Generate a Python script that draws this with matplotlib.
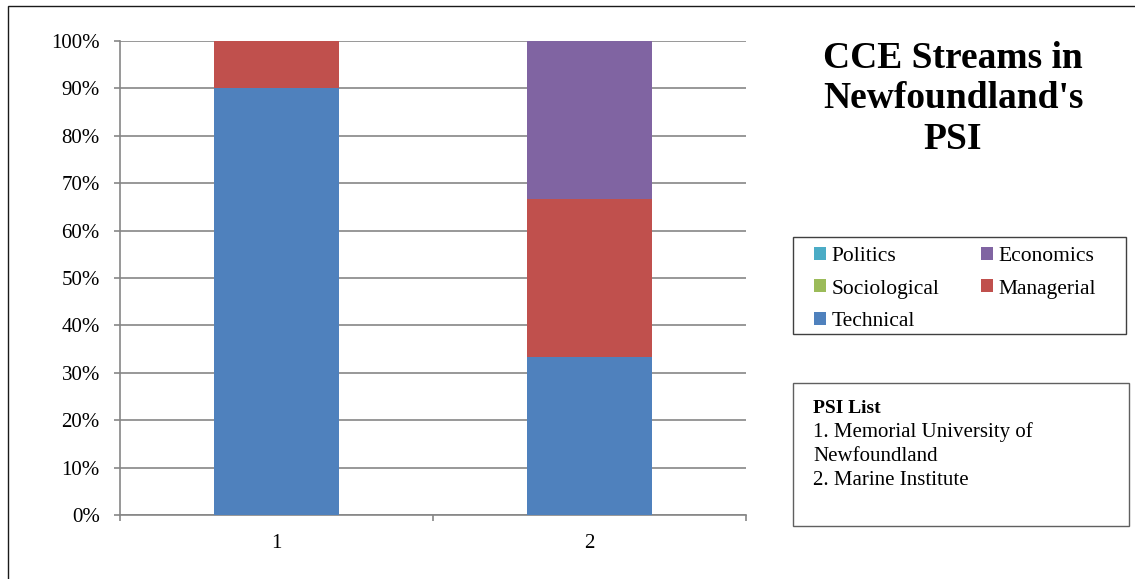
import matplotlib
matplotlib.use("Agg")
import matplotlib.pyplot as plt
from matplotlib.patches import Rectangle, Patch
from matplotlib.ticker import PercentFormatter

plt.rcParams['font.family'] = ['Liberation Serif', 'DejaVu Serif']

# PSI institutions (1 = Memorial University, 2 = Marine Institute)
institutions = ["1", "2"]
technical = [90.0, 33.33]
managerial = [10.0, 33.33]
economics = [0.0, 33.34]
sociological = [0.0, 0.0]
politics = [0.0, 0.0]

colors = {
    "Technical": "#4F81BD",
    "Sociological": "#9BBB59",
    "Managerial": "#C0504D",
    "Politics": "#4BACC6",
    "Economics": "#8064A2",
}

W, H = 1135, 579
fig = plt.figure(figsize=(W / 100, H / 100), dpi=100)

def fx(px):
    return px / W

def fy(py):
    return 1 - py / H

# outer chart border
fig.patches.append(Rectangle((fx(8), fy(585)), fx(1140) - fx(8), fy(6) - fy(585),
                             transform=fig.transFigure, fill=False,
                             edgecolor="#1a1a1a", linewidth=1.0))

ax = fig.add_axes([fx(120), fy(515), fx(746) - fx(120), fy(41) - fy(515)])

x = [1, 2]
bw = 0.4
stack = [("Technical", technical), ("Sociological", sociological),
         ("Managerial", managerial), ("Politics", politics),
         ("Economics", economics)]
bottom = [0.0, 0.0]
for name, vals in stack:
    ax.bar(x, vals, bw, bottom=bottom, color=colors[name], zorder=3)
    bottom = [b + v for b, v in zip(bottom, vals)]

ax.set_xlim(0.5, 2.5)
ax.set_ylim(0, 100)
ax.set_yticks(range(0, 101, 10))
ax.yaxis.set_major_formatter(PercentFormatter(decimals=0))
ax.set_xticks(x)
ax.set_xticklabels(institutions)
ax.set_xticks([0.5, 1.5, 2.5], minor=True)

grid_c = "#868686"
ax.grid(axis="y", color=grid_c, linewidth=1.2, zorder=0)
ax.set_axisbelow(True)
for s in ["top", "right"]:
    ax.spines[s].set_visible(False)
for s in ["left", "bottom"]:
    ax.spines[s].set_color(grid_c)
    ax.spines[s].set_linewidth(1.2)

ax.tick_params(axis="y", length=4.5, color=grid_c, width=1.2, pad=10, labelsize=15)
ax.tick_params(axis="x", which="major", length=0, pad=14, labelsize=15)
ax.tick_params(axis="x", which="minor", length=4.5, color=grid_c, width=1.2)

# title
fig.text(fx(953), fy(99), "CCE Streams in\nNewfoundland's\nPSI", ha="center", va="center",
         ma="center", fontsize=27, fontweight="bold", linespacing=1.22)

# legend box
fig.patches.append(Rectangle((fx(793), fy(334)), fx(1126) - fx(793), fy(237) - fy(334),
                             transform=fig.transFigure, fill=False,
                             edgecolor="#404040", linewidth=1.0))
order = ["Politics", "Sociological", "Technical", "Economics", "Managerial"]
handles = [Patch(facecolor=colors[n], edgecolor="none") for n in order]
fig.legend(handles, order, loc="upper left", bbox_to_anchor=(fx(814), fy(247)),
           ncol=2, frameon=False, fontsize=15.5, borderpad=0, borderaxespad=0,
           handlelength=0.55, handleheight=0.55, handletextpad=0.25,
           columnspacing=1.95, labelspacing=0.62)

# PSI list box
fig.patches.append(Rectangle((fx(793), fy(526)), fx(1129) - fx(793), fy(383) - fy(526),
                             transform=fig.transFigure, fill=False,
                             edgecolor="#606060", linewidth=1.0))
fig.text(fx(813), fy(413), "PSI List", ha="left", va="baseline", fontsize=14, fontweight="bold")
psi_lines = ["1. Memorial University of", "Newfoundland", "2. Marine Institute"]
for i, line in enumerate(psi_lines):
    fig.text(fx(813), fy(437 + 24 * i), line, ha="left", va="baseline", fontsize=15)

fig.savefig("out.png", dpi=100)
